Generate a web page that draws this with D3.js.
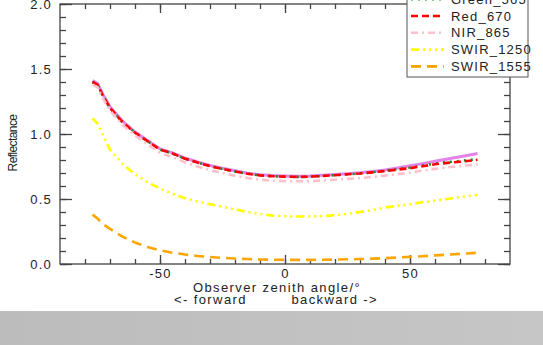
<!DOCTYPE html>
<html>
<head>
<meta charset="utf-8">
<script src="https://cdn.jsdelivr.net/npm/d3@7"></script>
<style>
  body { margin: 0; background: #fff; }
  text { font-family: "Liberation Sans", Arial, sans-serif; fill: #222; }
</style>
</head>
<body>
<div id="chart"></div>
<script>
// observer zenith angle (deg), negative = forward
const angles = [-77,-75,-73,-70,-65,-60,-55,-50,-45,-40,-35,-30,-25,-20,-15,-10,-5,0,5,10,15,20,25,30,35,40,45,50,55,60,65,70,75,77];

const blue490  = [1.41,1.39,1.31,1.21,1.10,1.015,0.95,0.885,0.855,0.815,0.785,0.758,0.736,0.717,0.699,0.687,0.68,0.677,0.675,0.677,0.682,0.688,0.695,0.702,0.712,0.723,0.738,0.755,0.772,0.79,0.808,0.825,0.843,0.85];
const green565 = [1.40,1.38,1.30,1.20,1.09,1.01,0.945,0.88,0.85,0.81,0.78,0.753,0.731,0.712,0.694,0.682,0.675,0.672,0.67,0.672,0.677,0.683,0.69,0.697,0.707,0.718,0.73,0.742,0.757,0.772,0.784,0.793,0.803,0.808];
const red670   = [1.40,1.38,1.30,1.20,1.09,1.01,0.945,0.88,0.85,0.81,0.78,0.753,0.731,0.712,0.694,0.682,0.675,0.672,0.67,0.672,0.677,0.683,0.69,0.696,0.705,0.715,0.726,0.737,0.752,0.767,0.778,0.787,0.797,0.802];
const nir865   = [1.38,1.36,1.28,1.18,1.07,0.99,0.92,0.855,0.822,0.782,0.75,0.722,0.699,0.679,0.661,0.648,0.641,0.638,0.636,0.638,0.642,0.648,0.655,0.661,0.67,0.68,0.691,0.703,0.718,0.732,0.744,0.753,0.763,0.768];
const swir1250 = [1.12,1.08,1.00,0.88,0.77,0.69,0.63,0.58,0.54,0.505,0.48,0.46,0.44,0.42,0.40,0.385,0.372,0.367,0.365,0.365,0.368,0.375,0.385,0.40,0.415,0.435,0.447,0.46,0.475,0.487,0.50,0.515,0.527,0.532];
const swir1555 = [0.38,0.35,0.31,0.27,0.21,0.165,0.13,0.105,0.087,0.073,0.062,0.054,0.047,0.042,0.038,0.035,0.033,0.032,0.032,0.032,0.033,0.034,0.036,0.038,0.041,0.045,0.05,0.055,0.06,0.066,0.072,0.078,0.084,0.087];

const seriesNames = ['Blue_490','Green_565','Red_670','NIR_865','SWIR_1250','SWIR_1555'];
const seriesValues = [blue490, green565, red670, nir865, swir1250, swir1555];
const seriesColors = ['#e482ea','#1f8a1f','#ff0000','#ffc0cb','#ffff00','#ffa500'];
const seriesDash = [null,'2,5','7,4','7,4,2,4','8,4,2,4,2,4,2,4','10,6'];

const xMajor = [-50, 0, 50];
const xMinor = d3.range(-80, 90, 10);
const yMajor = [0, 0.5, 1.0, 1.5, 2.0];
const yMinor = d3.range(0, 2.01, 0.1);

const width = 543, height = 345;
const svg = d3.select('#chart').append('svg')
  .attr('width', width)
  .attr('height', height);

// grey strip at the bottom of the picture
const grad = svg.append('defs').append('linearGradient').attr('id', 'band');
grad.append('stop').attr('offset', '0%').attr('stop-color', '#bcbcbc');
grad.append('stop').attr('offset', '100%').attr('stop-color', '#c6c6c6');
svg.append('rect').attr('x', 0).attr('y', 311).attr('width', width).attr('height', 34)
  .attr('fill', 'url(#band)');

const plotL = 60, plotR = 510, plotT = 4, plotB = 264;
const x = d3.scaleLinear().domain([-90, 90]).range([plotL, plotR]);
const y = d3.scaleLinear().domain([0, 2]).range([plotB, plotT]);

const axisColor = '#444';
function styleAxis(g) {
  g.select('.domain').remove();
  g.selectAll('.tick line').attr('stroke', axisColor).attr('stroke-width', 1.3);
  g.selectAll('.tick text').style('font-size', '13px').style('letter-spacing', '1.2px');
}

// minor ticks
svg.append('g').attr('transform', `translate(0,${plotB})`)
  .call(d3.axisBottom(x).tickValues(xMinor).tickSize(-5).tickFormat('')).call(styleAxis);
svg.append('g').attr('transform', `translate(0,${plotT})`)
  .call(d3.axisTop(x).tickValues(xMinor).tickSize(-5).tickFormat('')).call(styleAxis);
svg.append('g').attr('transform', `translate(${plotL},0)`)
  .call(d3.axisLeft(y).tickValues(yMinor).tickSize(-6).tickFormat('')).call(styleAxis);
svg.append('g').attr('transform', `translate(${plotR},0)`)
  .call(d3.axisRight(y).tickValues(yMinor).tickSize(-6).tickFormat('')).call(styleAxis);

// major ticks (plain hyphen for negatives, as in the original)
svg.append('g').attr('transform', `translate(0,${plotB})`)
  .call(d3.axisBottom(x).tickValues(xMajor).tickSize(-9).tickPadding(5).tickFormat(d => String(d))).call(styleAxis);
svg.append('g').attr('transform', `translate(0,${plotT})`)
  .call(d3.axisTop(x).tickValues(xMajor).tickSize(-9).tickFormat('')).call(styleAxis);
svg.append('g').attr('transform', `translate(${plotL},0)`)
  .call(d3.axisLeft(y).tickValues(yMajor).tickSize(-12).tickPadding(8).tickFormat(d3.format('.1f'))).call(styleAxis);
svg.append('g').attr('transform', `translate(${plotR},0)`)
  .call(d3.axisRight(y).tickValues(yMajor).tickSize(-12).tickFormat('')).call(styleAxis);

// frame
svg.append('rect')
  .attr('x', plotL).attr('y', plotT)
  .attr('width', plotR - plotL).attr('height', plotB - plotT)
  .attr('fill', 'none').attr('stroke', axisColor).attr('stroke-width', 1.3);

// curves
const line = d3.line()
  .x((d, i) => x(angles[i]))
  .y(d => y(d));

seriesValues.forEach((vals, k) => {
  svg.append('path')
    .datum(vals)
    .attr('d', line)
    .attr('fill', 'none')
    .attr('stroke', seriesColors[k])
    .attr('stroke-width', k === 0 ? 3 : 2.6)
    .attr('stroke-dasharray', seriesDash[k]);
});

// axis titles
svg.append('text')
  .attr('transform', 'translate(17,143) rotate(-90)')
  .attr('text-anchor', 'middle')
  .style('font-size', '12px')
  .style('letter-spacing', '-0.6px')
  .text('Reflectance');

svg.append('text')
  .attr('x', 277).attr('y', 292)
  .attr('text-anchor', 'middle')
  .style('font-size', '13px').style('letter-spacing', '1.4px')
  .text('Observer zenith angle/\u00b0');
svg.append('text')
  .attr('x', 174).attr('y', 304)
  .style('font-size', '13px').style('letter-spacing', '1.4px')
  .text('<- forward');
svg.append('text')
  .attr('x', 378).attr('y', 304)
  .attr('text-anchor', 'end')
  .style('font-size', '13px').style('letter-spacing', '1.4px')
  .text('backward ->');

// legend (top part runs off the picture)
const legend = svg.append('g');
legend.append('rect')
  .attr('x', 407).attr('y', -40)
  .attr('width', 121).attr('height', 117)
  .attr('fill', '#fff').attr('stroke', '#555').attr('stroke-width', 1);

const rowY = d3.scaleLinear().domain([0, 5]).range([-17.6, 66.4]);
seriesNames.forEach((name, k) => {
  const yy = rowY(k);
  legend.append('line')
    .attr('x1', 411).attr('x2', 444)
    .attr('y1', yy).attr('y2', yy)
    .attr('stroke', seriesColors[k])
    .attr('stroke-width', k === 0 ? 3 : 2.6)
    .attr('stroke-dasharray', seriesDash[k]);
  legend.append('text')
    .attr('x', 451).attr('y', yy + 4.5)
    .style('font-size', '13px').style('letter-spacing', '1.2px')
    .text(name);
});
</script>
</body>
</html>
